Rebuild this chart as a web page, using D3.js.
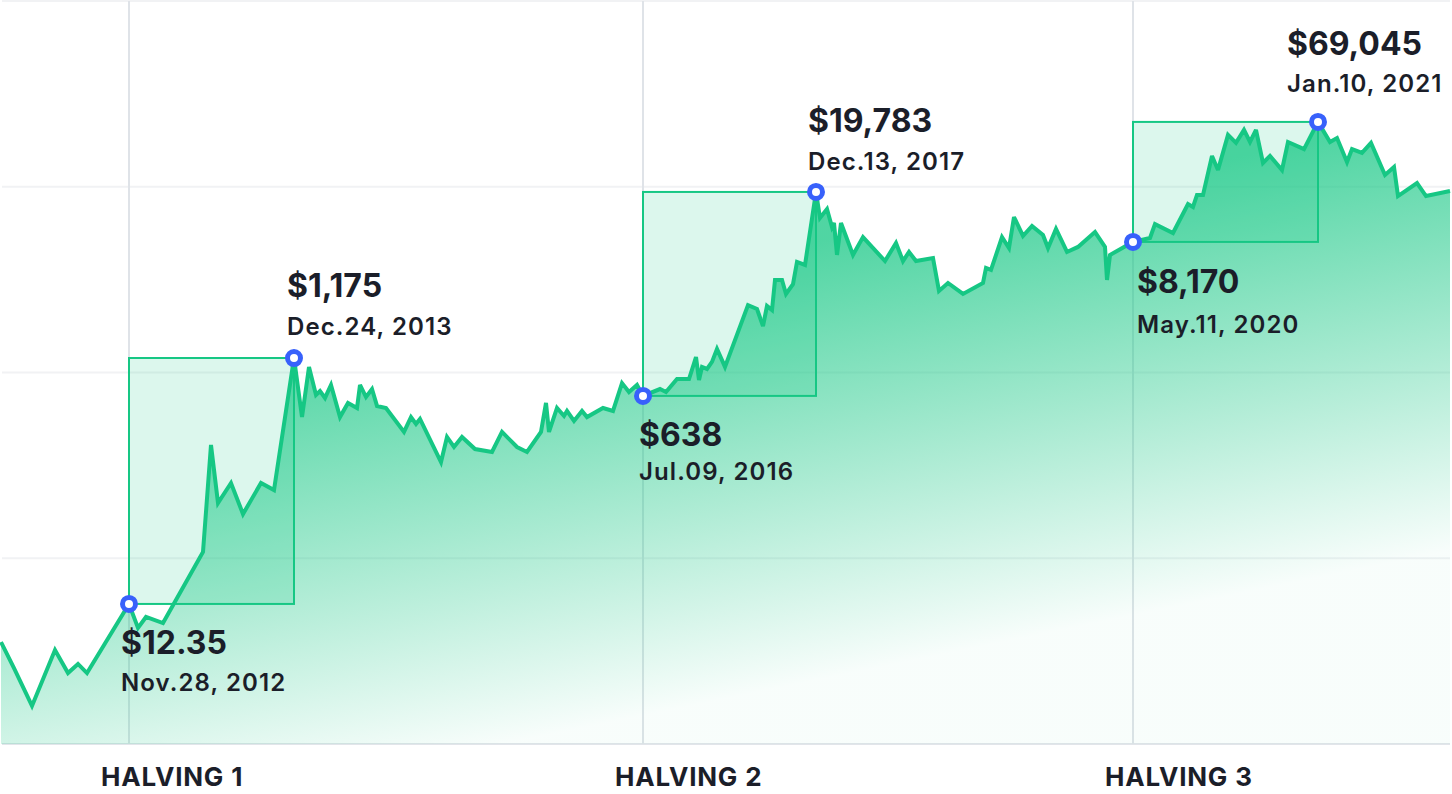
<!DOCTYPE html>
<html><head><meta charset="utf-8">
<script src="https://cdn.jsdelivr.net/npm/d3@7"></script>
<style>
html,body{margin:0;padding:0;background:#fff;}
svg{display:block;font-family:Inter,"Noto Sans",sans-serif;}
</style>
</head><body>
<svg id="chart" width="1452" height="794"></svg>
<script>
// ---- data (timeline units 0..145, chart level units 0..4 = gridlines) ----
const series = [
 [0.1,0.549],[1.4,0.409],[3.2,0.205],[5.5,0.506],[6.8,0.382],[7.8,0.431],[8.7,0.382],
 [12.9,0.754],[13.8,0.625],[14.6,0.684],[16.3,0.651],[20.3,1.034],[21.1,1.610],[21.8,1.297],
 [23.1,1.405],[24.3,1.238],[26.1,1.405],[27.4,1.367],[29.4,2.078],[30.2,1.760],[30.9,2.030],
 [31.6,1.879],[32.0,1.900],[32.5,1.863],[33.1,1.933],[34.0,1.760],[34.8,1.836],[35.7,1.809],
 [36.0,1.933],[36.6,1.868],[37.2,1.911],[37.7,1.820],[38.6,1.809],[40.4,1.680],[41.1,1.760],
 [41.6,1.723],[42.0,1.750],[44.1,1.518],[44.7,1.653],[45.4,1.599],[46.2,1.653],[47.5,1.588],
 [49.2,1.572],[50.2,1.680],[51.7,1.599],[52.7,1.572],[54.1,1.680],[54.6,1.836],[54.9,1.680],
 [55.7,1.809],[56.4,1.766],[56.7,1.793],[57.4,1.739],[58.2,1.793],[58.7,1.760],[60.3,1.809],
 [61.3,1.793],[62.2,1.943],[62.9,1.895],[63.7,1.933],[64.3,1.874],[66.0,1.911],[66.6,1.895],
 [67.7,1.965],[68.9,1.965],[69.6,2.083],[69.9,1.960],[70.2,2.030],[70.7,2.019],[71.2,2.057],
 [71.7,2.127],[72.5,2.030],[74.8,2.363],[75.7,2.342],[76.3,2.250],[76.7,2.358],[77.2,2.336],
 [77.5,2.498],[78.2,2.498],[78.6,2.423],[79.3,2.476],[79.7,2.595],[80.5,2.579],[81.6,2.972],
 [82.0,2.832],[82.7,2.880],[83.2,2.783],[83.4,2.805],[83.7,2.633],[84.1,2.805],[85.3,2.633],
 [86.3,2.729],[88.5,2.600],[89.6,2.697],[90.3,2.600],[90.9,2.649],[91.6,2.600],[93.3,2.616],
 [93.9,2.439],[94.8,2.482],[96.3,2.423],[98.3,2.482],[98.6,2.563],[99.1,2.552],[100.2,2.729],
 [100.9,2.670],[101.4,2.837],[102.3,2.735],[103.2,2.789],[104.3,2.740],[104.8,2.670],[105.6,2.773],
 [106.7,2.649],[107.8,2.676],[109.5,2.756],[110.5,2.676],[110.7,2.498],[111.0,2.633],[113.3,2.703],
 [115.0,2.724],[115.5,2.799],[117.3,2.751],[118.8,2.907],[119.3,2.891],[119.7,2.956],[120.3,2.956],
 [121.2,3.166],[121.8,3.090],[122.8,3.279],[123.6,3.236],[124.4,3.306],[125.0,3.241],[125.6,3.306],
 [126.3,3.128],[127.0,3.166],[128.2,3.090],[128.8,3.241],[130.4,3.203],[131.8,3.349],[133.0,3.241],
 [133.7,3.262],[134.7,3.133],[135.2,3.203],[136.2,3.182],[137.1,3.236],[138.5,3.063],[139.4,3.106],
 [139.8,2.950],[141.7,3.020],[142.6,2.950],[145.0,2.977]
];
const gridLevels = [0, 1, 2, 3, 4];
const halvingNames = ["HALVING 1", "HALVING 2", "HALVING 3"];
const halvingT = [12.9, 64.3, 113.3];
const halvingLevel = [0.754, 1.874, 2.703];
const halvingPrice = ["$12.35", "$638", "$8,170"];
const halvingDate = ["Nov.28, 2012", "Jul.09, 2016", "May.11, 2020"];
const peakT = [29.4, 81.6, 131.8];
const peakLevel = [2.078, 2.972, 3.349];
const peakPrice = ["$1,175", "$19,783", "$69,045"];
const peakDate = ["Dec.24, 2013", "Dec.13, 2017", "Jan.10, 2021"];

// ---- label layout (offsets from the marker, px) ----
const halvingLayout = [{dx:-8,py:50,dy:87},{dx:-4,py:50,dy:84},{dx:4,py:51,dy:91}];
const peakLayout = [{dx:-7,py:-61,dy:-23},{dx:-8,py:-60,dy:-22},{dx:-31,py:-67,dy:-30}];

const GREEN = "#16c784", BLUE = "#3861fb", INK = "#1b1e29";
const svg = d3.select("#chart");
const x = d3.scaleLinear().domain([0, 145]).range([0, 1450]);
const y = d3.scaleLinear().domain([0, 4]).range([744, 1]);

// gradient
const defs = svg.append("defs");
const g = defs.append("linearGradient").attr("id","areaGrad")
  .attr("gradientUnits","userSpaceOnUse")
  .attr("x1",80).attr("y1",392).attr("x2",166).attr("y2",813);
g.append("stop").attr("offset","0").attr("stop-color",GREEN).attr("stop-opacity",0.75);
g.append("stop").attr("offset","1").attr("stop-color",GREEN).attr("stop-opacity",0.03);

// horizontal gridlines
svg.append("g").selectAll("line").data(gridLevels).join("line")
  .attr("x1", 2).attr("x2", 1450)
  .attr("y1", d => y(d)).attr("y2", d => y(d))
  .attr("stroke", d => d === 0 ? "#e2e5ea" : "#f1f2f4")
  .attr("stroke-width", 2);

// halving vertical lines
svg.append("g").selectAll("line").data(halvingT).join("line")
  .attr("x1", d => x(d)).attr("x2", d => x(d))
  .attr("y1", y(4)).attr("y2", y(0))
  .attr("stroke", "#dfe3e8").attr("stroke-width", 2);

// area
const area = d3.area().x(d => x(d[0])).y0(y(0)).y1(d => y(d[1]));
svg.append("path").datum(series).attr("d", area).attr("fill", "url(#areaGrad)");

// halving -> peak boxes
svg.append("g").selectAll("rect").data(halvingT).join("rect")
  .attr("x", (d,i) => x(d))
  .attr("y", (d,i) => y(peakLevel[i]))
  .attr("width", (d,i) => x(peakT[i]) - x(d))
  .attr("height", (d,i) => y(halvingLevel[i]) - y(peakLevel[i]))
  .attr("fill", GREEN).attr("fill-opacity", 0.15)
  .attr("stroke", GREEN).attr("stroke-width", 2);

// line
const line = d3.line().x(d => x(d[0])).y(d => y(d[1]));
svg.append("path").datum(series).attr("d", line)
  .attr("fill", "none").attr("stroke", GREEN).attr("stroke-width", 4)
  .attr("stroke-linejoin", "miter").attr("stroke-miterlimit", 3);

// markers
const keyPts = halvingT.map((t,i) => [t, halvingLevel[i]]).concat(peakT.map((t,i) => [t, peakLevel[i]]));
svg.append("g").selectAll("circle").data(keyPts).join("circle")
  .attr("cx", d => x(d[0])).attr("cy", d => y(d[1])).attr("r", 6.5)
  .attr("fill", "#fff").attr("stroke", BLUE).attr("stroke-width", 5);

// annotations
function annotate(ts, ls, prices, dates, layout) {
  const gg = svg.append("g").attr("fill", INK);
  ts.forEach((t, i) => {
    const px = x(t) + layout[i].dx, py = y(ls[i]);
    gg.append("text").attr("x", px).attr("y", py + layout[i].py)
      .attr("font-size", 32).attr("font-weight", 700).text(prices[i]);
    gg.append("text").attr("x", px).attr("y", py + layout[i].dy)
      .attr("font-size", 24).attr("font-weight", 600).attr("letter-spacing", 1.1).text(dates[i]);
  });
}
annotate(halvingT, halvingLevel, halvingPrice, halvingDate, halvingLayout);
annotate(peakT, peakLevel, peakPrice, peakDate, peakLayout);

// halving axis labels
svg.append("g").selectAll("text").data(halvingT).join("text")
  .attr("x", d => x(d) - 28).attr("y", 786)
  .attr("font-size", 26).attr("font-weight", 700).attr("letter-spacing", 0.8).attr("fill", INK)
  .text((d,i) => halvingNames[i]);
</script>
</body></html>
